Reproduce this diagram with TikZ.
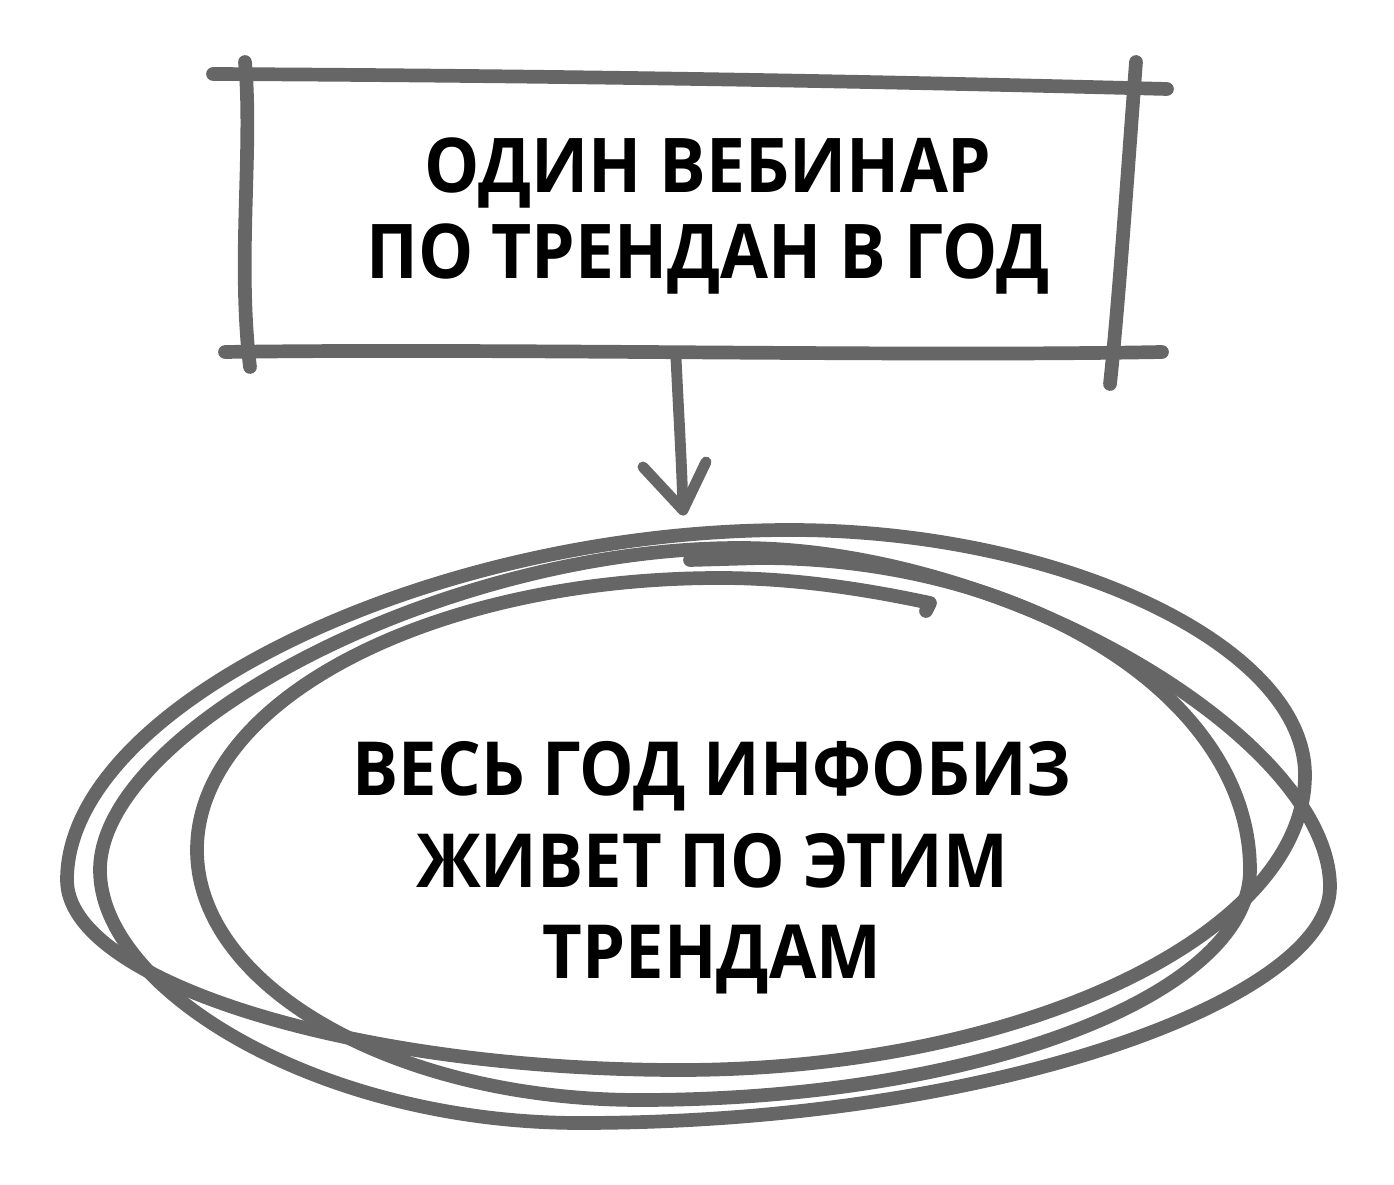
\documentclass[tikz,border=0pt]{standalone}
\usepackage{fontspec}
\setmainfont{Open Sans}[FakeStretch=0.92]
\usetikzlibrary{positioning}
\definecolor{inkgray}{RGB}{102,102,102}
\tikzset{
  ink/.style={draw=inkgray,line width=7.8pt,line cap=round,line join=round},
  signtext/.style={font=\bfseries\fontsize{43}{49}\selectfont,align=center,text=black,inner sep=0pt},
  ovaltext/.style={font=\bfseries\fontsize{42.5}{52}\selectfont,align=center,text=black,inner sep=0pt},
}

\begin{document}
\begin{tikzpicture}[x=0.02cm,y=-0.02cm]
\useasboundingbox (0,0) rectangle (1394,1185);
% sign: four overshooting strokes
\draw[ink] (213,74) .. controls (600,76) and (900,82) .. (1167,89);
\draw[ink] (245,62) .. controls (253,150) and (237,260) .. (250,367);
\draw[ink] (1136,62) .. controls (1127,180) and (1119,300) .. (1110,384);
\draw[ink] (225,352) .. controls (500,348) and (900,357) .. (1162,352);
\node[signtext] (sign) at (708,216) {ОДИН ВЕБИНАР\\ПО ТРЕНДАН В ГОД};

% arrow
\coordinate (shafttop) at (676,358);
\coordinate (tip) at (683,510);
\coordinate (wingL) at (643,467);
\coordinate (wingR) at (706,462);
\draw[ink,line width=6.2pt] (shafttop) .. controls (679,420) and (682,470) .. (tip);
\draw[ink,line width=6.2pt] (wingL) -- (tip) -- (wingR);

% scribbled oval, three loops
\draw[ink] (67,880) .. controls (67,705) and (430,530) .. (790,530)
  .. controls (1060,530) and (1305,645) .. (1305,775)
  .. controls (1305,935) and (1020,1070) .. (680,1070)
  .. controls (350,1070) and (67,980) .. cycle;
\draw[ink] (100,870) .. controls (100,730) and (440,548) .. (740,548)
  .. controls (1010,548) and (1330,740) .. (1330,887)
  .. controls (1330,1000) and (990,1123) .. (580,1123)
  .. controls (320,1123) and (100,990) .. cycle;
\draw[ink] (926,611) -- (930,603) .. controls (860,588) and (790,578) .. (720,578)
  .. controls (432,578) and (197,700) .. (197,850)
  .. controls (197,987) and (396,1100) .. (640,1100)
  .. controls (975,1100) and (1250,996) .. (1250,870)
  .. controls (1250,698) and (1030,558) .. (760,558)
  -- (690,560);
\node[ovaltext] (oval) at (712,868) {ВЕСЬ ГОД ИНФОБИЗ\\ЖИВЕТ ПО ЭТИМ\\ТРЕНДАМ};
\end{tikzpicture}
\end{document}
